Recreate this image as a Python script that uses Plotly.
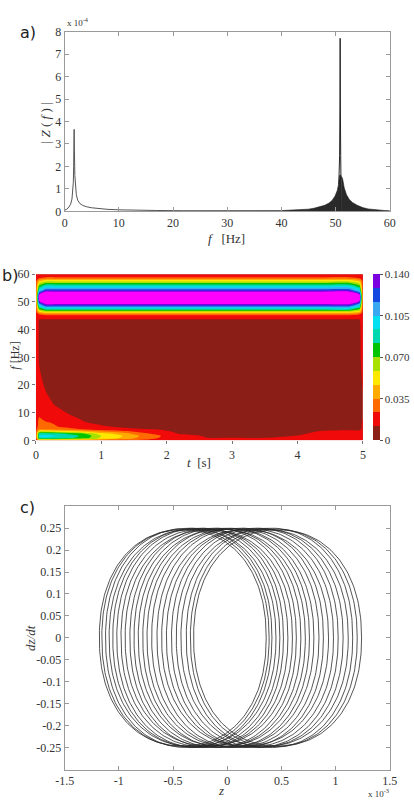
import numpy as np
import plotly.graph_objects as go

W, H = 414, 808
SERIF = "Liberation Serif"
SANS = "DejaVu Sans"

# ---------------- Panel a: amplitude spectrum (units of 1e-4) ----------------
spec_f_low = [0, 0.4, 0.8, 1.1, 1.35, 1.5, 1.6, 1.66, 1.71, 1.75, 1.8, 1.88, 1.98, 2.15, 2.4, 2.8, 3.3, 4.0,
              5.0, 6.5, 8.0, 10, 13, 17, 22, 28, 34, 38, 40]
spec_amp_low = [0.05, 0.1, 0.2, 0.32, 0.55, 0.85, 1.3, 2.0, 2.9, 3.65, 2.7, 1.6, 1.1, 0.75, 0.5, 0.35, 0.27, 0.21,
                0.16, 0.12, 0.09, 0.07, 0.05, 0.04, 0.03, 0.03, 0.03, 0.03, 0.035]
spec_f_band = [40, 42, 44, 45, 46, 47, 48, 48.8, 49.4, 49.9, 50.3, 50.55, 50.75, 50.95, 51.0, 51.03, 51.08,
               51.11, 51.3, 51.6, 52.0, 52.5, 53.1, 54, 55, 56, 57, 58, 59, 60]
spec_amp_band = [0.035, 0.05, 0.08, 0.1, 0.14, 0.19, 0.27, 0.37, 0.5, 0.68, 0.92, 1.2, 1.6, 1.62, 1.5, 0.0, 0.0,
                 1.55, 1.45, 1.05, 0.75, 0.54, 0.4, 0.27, 0.17, 0.11, 0.08, 0.06, 0.04, 0.03]
spike_f = [50.6, 50.75, 50.82, 50.85, 50.88, 50.95, 51.0]
spike_amp = [1.2, 2.5, 5.0, 7.7, 5.0, 2.5, 1.4]
a_xticks = [0, 10, 20, 30, 40, 50, 60]
a_yticks = [0, 1, 2, 3, 4, 5, 6, 7, 8]

# ---------------- Panel b: time-frequency map ----------------
tf_time = [0, 0.05, 0.15, 0.3, 0.5, 0.75, 1.0, 1.3, 1.6, 1.9, 2.2, 2.6, 3.0, 3.5, 4.0, 4.4, 4.8, 4.95, 5.0]
tf_freq = [0, 0.8, 1.6, 2.4, 3.2, 4.0, 5.0, 6.5, 8.0, 10, 13, 17, 22, 30, 40,
           43.5, 44.9, 45.6, 46.3, 47.0, 47.8, 48.5, 49.3, 50.4, 51.5, 52.6, 53.7, 54.4, 55.5, 56.6,
           57.7, 58.5, 59.2, 60.0]
tf_power = [
    [0.016, 0.030, 0.034, 0.034, 0.032, 0.030, 0.026, 0.022, 0.020, 0.018, 0.016, 0.014, 0.013, 0.013, 0.014, 0.016, 0.018, 0.018, 0.015],
    [0.018, 0.090, 0.092, 0.090, 0.084, 0.074, 0.055, 0.045, 0.031, 0.022, 0.015, 0.012, 0.012, 0.012, 0.013, 0.017, 0.019, 0.019, 0.015],
    [0.020, 0.095, 0.096, 0.094, 0.088, 0.078, 0.058, 0.048, 0.034, 0.024, 0.015, 0.011, 0.010, 0.010, 0.012, 0.017, 0.019, 0.019, 0.016],
    [0.020, 0.088, 0.090, 0.087, 0.080, 0.070, 0.052, 0.042, 0.028, 0.019, 0.011, 0.008, 0.007, 0.007, 0.010, 0.015, 0.017, 0.017, 0.015],
    [0.020, 0.056, 0.058, 0.056, 0.052, 0.045, 0.036, 0.028, 0.020, 0.015, 0.009, 0.006, 0.005, 0.005, 0.008, 0.013, 0.014, 0.014, 0.014],
    [0.020, 0.034, 0.032, 0.030, 0.027, 0.022, 0.018, 0.015, 0.013, 0.011, 0.007, 0.005, 0.004, 0.004, 0.006, 0.009, 0.010, 0.010, 0.013],
    [0.020, 0.026, 0.025, 0.024, 0.020, 0.016, 0.013, 0.010, 0.007, 0.005, 0.004, 0.004, 0.003, 0.003, 0.004, 0.006, 0.008, 0.010, 0.013],
    [0.020, 0.025, 0.024, 0.022, 0.018, 0.012, 0.009, 0.006, 0.005, 0.004, 0.003, 0.003, 0.003, 0.003, 0.003, 0.004, 0.006, 0.009, 0.013],
    [0.020, 0.024, 0.021, 0.018, 0.014, 0.010, 0.007, 0.005, 0.004, 0.003, 0.003, 0.003, 0.003, 0.003, 0.003, 0.004, 0.005, 0.008, 0.012],
    [0.020, 0.021, 0.018, 0.015, 0.011, 0.008, 0.006, 0.004, 0.003, 0.003, 0.003, 0.003, 0.003, 0.003, 0.003, 0.003, 0.005, 0.008, 0.012],
    [0.019, 0.018, 0.015, 0.011, 0.008, 0.006, 0.004, 0.003, 0.003, 0.003, 0.003, 0.003, 0.003, 0.003, 0.003, 0.003, 0.005, 0.008, 0.012],
    [0.018, 0.016, 0.012, 0.009, 0.007, 0.005, 0.004, 0.003, 0.003, 0.003, 0.003, 0.003, 0.003, 0.003, 0.003, 0.003, 0.005, 0.008, 0.012],
    [0.018, 0.013, 0.010, 0.008, 0.006, 0.004, 0.003, 0.003, 0.003, 0.003, 0.003, 0.003, 0.003, 0.003, 0.003, 0.003, 0.005, 0.009, 0.013],
    [0.017, 0.011, 0.009, 0.007, 0.005, 0.004, 0.003, 0.003, 0.003, 0.003, 0.003, 0.003, 0.003, 0.003, 0.003, 0.003, 0.005, 0.010, 0.015],
    [0.017, 0.011, 0.009, 0.008, 0.007, 0.006, 0.006, 0.006, 0.006, 0.006, 0.006, 0.006, 0.006, 0.006, 0.006, 0.006, 0.007, 0.010, 0.016],
    [0.017, 0.011, 0.0105, 0.0105, 0.0105, 0.0105, 0.0105, 0.0105, 0.0105, 0.0105, 0.0105, 0.0105, 0.0105, 0.0105, 0.0105, 0.0105, 0.0105, 0.011, 0.017],
    [0.018, 0.016, 0.018, 0.018, 0.018, 0.018, 0.018, 0.018, 0.018, 0.018, 0.018, 0.018, 0.018, 0.018, 0.018, 0.018, 0.018, 0.016, 0.018],
    [0.020, 0.024, 0.030, 0.030, 0.030, 0.030, 0.030, 0.030, 0.030, 0.030, 0.030, 0.030, 0.030, 0.030, 0.030, 0.030, 0.030, 0.024, 0.020],
    [0.020, 0.042, 0.052, 0.052, 0.052, 0.052, 0.052, 0.052, 0.052, 0.052, 0.052, 0.052, 0.052, 0.052, 0.052, 0.052, 0.052, 0.042, 0.020],
    [0.020, 0.060, 0.075, 0.075, 0.075, 0.075, 0.075, 0.075, 0.075, 0.075, 0.075, 0.075, 0.075, 0.075, 0.075, 0.075, 0.075, 0.060, 0.020],
    [0.020, 0.078, 0.098, 0.098, 0.098, 0.098, 0.098, 0.098, 0.098, 0.098, 0.098, 0.098, 0.098, 0.098, 0.098, 0.098, 0.098, 0.078, 0.020],
    [0.020, 0.096, 0.120, 0.120, 0.120, 0.120, 0.120, 0.120, 0.120, 0.120, 0.120, 0.120, 0.120, 0.120, 0.120, 0.120, 0.120, 0.096, 0.020],
    [0.020, 0.112, 0.140, 0.140, 0.140, 0.140, 0.140, 0.140, 0.140, 0.140, 0.140, 0.140, 0.140, 0.140, 0.140, 0.140, 0.140, 0.112, 0.020],
    [0.020, 0.140, 0.175, 0.175, 0.175, 0.175, 0.175, 0.175, 0.175, 0.175, 0.175, 0.175, 0.175, 0.175, 0.175, 0.175, 0.175, 0.140, 0.020],
    [0.020, 0.152, 0.190, 0.190, 0.190, 0.190, 0.190, 0.190, 0.190, 0.190, 0.190, 0.190, 0.190, 0.190, 0.190, 0.190, 0.190, 0.152, 0.020],
    [0.020, 0.140, 0.175, 0.175, 0.175, 0.175, 0.175, 0.175, 0.175, 0.175, 0.175, 0.175, 0.175, 0.175, 0.175, 0.175, 0.175, 0.140, 0.020],
    [0.020, 0.112, 0.140, 0.140, 0.140, 0.140, 0.140, 0.140, 0.140, 0.140, 0.140, 0.140, 0.140, 0.140, 0.140, 0.140, 0.140, 0.112, 0.020],
    [0.020, 0.096, 0.120, 0.120, 0.120, 0.120, 0.120, 0.120, 0.120, 0.120, 0.120, 0.120, 0.120, 0.120, 0.120, 0.120, 0.120, 0.096, 0.020],
    [0.020, 0.078, 0.098, 0.098, 0.098, 0.098, 0.098, 0.098, 0.098, 0.098, 0.098, 0.098, 0.098, 0.098, 0.098, 0.098, 0.098, 0.078, 0.020],
    [0.020, 0.060, 0.075, 0.075, 0.075, 0.075, 0.075, 0.075, 0.075, 0.075, 0.075, 0.075, 0.075, 0.075, 0.075, 0.075, 0.075, 0.060, 0.020],
    [0.020, 0.042, 0.052, 0.052, 0.052, 0.052, 0.052, 0.052, 0.052, 0.052, 0.052, 0.052, 0.052, 0.052, 0.052, 0.052, 0.052, 0.042, 0.020],
    [0.020, 0.024, 0.030, 0.030, 0.030, 0.030, 0.030, 0.030, 0.030, 0.030, 0.030, 0.030, 0.030, 0.030, 0.030, 0.030, 0.030, 0.024, 0.020],
    [0.018, 0.018, 0.020, 0.020, 0.020, 0.020, 0.020, 0.020, 0.020, 0.020, 0.020, 0.020, 0.020, 0.020, 0.020, 0.020, 0.020, 0.018, 0.018],
    [0.016, 0.016, 0.016, 0.016, 0.016, 0.016, 0.016, 0.016, 0.016, 0.016, 0.016, 0.016, 0.016, 0.016, 0.016, 0.016, 0.016, 0.016, 0.016],
]
level_colors = ["#8b1e16", "#f00a0a", "#ff6a00", "#ffaa00", "#ffe800", "#a8e000",
                "#00c400", "#00d8b0", "#00e0f0", "#38a8f0", "#1448e0", "#7a00e0"]
over_color = "#ff00ff"
cb_tickvals = [0, 0.035, 0.070, 0.105, 0.140]
cb_ticktext = ["0", "0.035", "0.070", "0.105", "0.140"]
b_xticks = [0, 1, 2, 3, 4, 5]
b_yticks = [0, 10, 20, 30, 40, 50, 60]

# ---------------- Panel c: phase portrait (z in units of 1e-3) ----------------
orbit_center = [-0.41, -0.385, -0.355, -0.32, -0.285, -0.25, -0.21, -0.17, -0.13, -0.09, -0.05, -0.01,
                0.03, 0.075, 0.12, 0.165, 0.21, 0.255, 0.30, 0.345, 0.39, 0.43, 0.465]
orbit_half_width = [0.77, 0.772, 0.768, 0.77, 0.771, 0.769, 0.77, 0.772, 0.768, 0.77, 0.771, 0.769,
                    0.77, 0.772, 0.768, 0.77, 0.771, 0.769, 0.77, 0.772, 0.768, 0.77, 0.775]
orbit_half_height = [0.246, 0.248, 0.25, 0.247, 0.249, 0.25, 0.248, 0.246, 0.25, 0.249, 0.247, 0.25,
                     0.248, 0.249, 0.25, 0.246, 0.248, 0.25, 0.249, 0.247, 0.25, 0.248, 0.246]
c_xticks = [-1.5, -1, -0.5, 0, 0.5, 1, 1.5]
c_xticktext = ["-1.5", "-1", "-0.5", "0", "0.5", "1", "1.5"]
c_yticks = [-0.25, -0.2, -0.15, -0.1, -0.05, 0, 0.05, 0.1, 0.15, 0.2, 0.25]
c_yticktext = ["-0.25", "-0.2", "-0.15", "-0.1", "-0.05", "0", "0.05", "0.1", "0.15", "0.2", "0.25"]

ORBIT_EXP = 2.2  # squareness of each loop


def px(x):
    return x / W


def py(y):
    return 1 - y / H


fig = go.Figure()

# Panel a traces
fig.add_trace(go.Scatter(x=spec_f_low, y=spec_amp_low, mode="lines", line=dict(color="#555555", width=1),
                         xaxis="x", yaxis="y", showlegend=False, hoverinfo="skip"))
fig.add_trace(go.Scatter(x=spec_f_band, y=spec_amp_band, mode="lines", fill="tozeroy", fillcolor="#2a2a2a",
                         line=dict(color="#1e1e1e", width=0.6), xaxis="x", yaxis="y", showlegend=False,
                         hoverinfo="skip"))
fig.add_trace(go.Scatter(x=spike_f, y=spike_amp, mode="lines", line=dict(color="#222222", width=1),
                         xaxis="x", yaxis="y", showlegend=False, hoverinfo="skip"))

# Panel b traces
n = len(level_colors)
cs = []
for i, c in enumerate(level_colors):
    cs.append([i / n, c])
    cs.append([(i + 1) / n, c])
step = 0.14 / n
fig.add_trace(go.Contour(
    x=tf_time, y=tf_freq, z=tf_power, xaxis="x2", yaxis="y2",
    zmin=0, zmax=0.14, autocontour=False,
    contours=dict(start=step, end=0.14 - step + 1e-9, size=step, coloring="fill", showlines=False),
    line=dict(width=0, smoothing=1), colorscale=cs, hoverinfo="skip",
    colorbar=dict(x=px(379), xanchor="left", xpad=0, ypad=0, thickness=7, len=169 / H, lenmode="fraction",
                  y=py(356.5), yanchor="middle", tickvals=cb_tickvals, ticktext=cb_ticktext,
                  ticks="outside", ticklen=3, tickcolor="#555", outlinewidth=0,
                  tickfont=dict(family=SERIF, size=11, color="#333")),
))
fig.add_trace(go.Contour(
    x=tf_time, y=tf_freq, z=tf_power, xaxis="x2", yaxis="y2",
    contours=dict(type="constraint", operation="<", value=0.14, showlines=False),
    fillcolor=over_color, line=dict(width=0, smoothing=1), showscale=False, hoverinfo="skip",
))

# Panel c trace
theta = np.linspace(0, 2 * np.pi, 241)
cth, sth = np.cos(theta), np.sin(theta)
xs, ys = [], []
for c0, aw, bh in zip(orbit_center, orbit_half_width, orbit_half_height):
    xs.extend(list(c0 + aw * np.sign(cth) * np.abs(cth) ** (2 / ORBIT_EXP)) + [None])
    ys.extend(list(bh * np.sign(sth) * np.abs(sth) ** (2 / ORBIT_EXP)) + [None])
fig.add_trace(go.Scatter(x=xs, y=ys, mode="lines", line=dict(color="#2a2a2a", width=0.8),
                         xaxis="x3", yaxis="y3", showlegend=False, hoverinfo="skip"))

box_axis = dict(showline=True, linecolor="#9a9a9a", linewidth=1, mirror="ticks", ticks="inside",
                ticklen=4, tickcolor="#9a9a9a", showgrid=False, zeroline=False,
                tickfont=dict(family=SERIF, size=12, color="#333"))

fig.update_layout(
    width=W, height=H, margin=dict(l=0, r=0, t=0, b=0),
    paper_bgcolor="white", plot_bgcolor="white", showlegend=False,
    font=dict(family=SERIF, size=12, color="#333"),
    xaxis=dict(domain=[px(57), px(396)], anchor="y", range=[0, 60], tickvals=a_xticks, **box_axis),
    yaxis=dict(domain=[py(208), py(25)], anchor="x", range=[0, 8], tickvals=a_yticks, **box_axis),
    xaxis2=dict(domain=[px(27), px(368)], anchor="y2", range=[0, 5], tickvals=b_xticks, showgrid=False,
                zeroline=False, showline=False, ticks="outside", ticklen=3, tickcolor="#777",
                tickfont=dict(family=SERIF, size=12, color="#333")),
    yaxis2=dict(domain=[py(441), py(272)], anchor="x2", range=[0, 60], tickvals=b_yticks, showgrid=False,
                zeroline=False, showline=False, ticks="outside", ticklen=3, tickcolor="#777",
                tickfont=dict(family=SERIF, size=12, color="#333")),
    xaxis3=dict(domain=[px(57), px(396)], anchor="y3", range=[-1.5, 1.5], tickvals=c_xticks,
                ticktext=c_xticktext, **box_axis),
    yaxis3=dict(domain=[py(776), py(508)], anchor="x3", range=[-0.3, 0.3], tickvals=c_yticks,
                ticktext=c_yticktext, **box_axis),
)


def note(text, x, y, size=13, family=SERIF, angle=0, xanchor="center", yanchor="middle", color="#333"):
    fig.add_annotation(text=text, x=px(x), y=py(y), xref="paper", yref="paper", showarrow=False,
                       textangle=angle, xanchor=xanchor, yanchor=yanchor,
                       font=dict(family=family, size=size, color=color))


note("a)", 8, 26, size=16, family=SANS, xanchor="left", color="#222")
note("b)", 10, 273, size=16, family=SANS, xanchor="right", color="#222")
note("c)", 8, 509, size=16, family=SANS, xanchor="left", color="#222")

note("x 10<sup>-4</sup>", 57, 15, size=9, xanchor="left")
note("| <i>Z</i> ( <i>f</i> ) |", 37, 118, size=13, angle=-90)
note("<i>f</i>   [Hz]", 226, 236, size=13)

note("<i>f</i> [Hz]", 5, 355, size=12, angle=-90)
note("<i>t</i>  [s]", 197, 464, size=13)

note("<i>dz/dt</i>", 22, 642, size=13, angle=-90)
note("<i>z</i>", 220, 797, size=13)
note("x 10<sup>-3</sup>", 371, 800, size=9, xanchor="left")

fig.write_html("out.html")
